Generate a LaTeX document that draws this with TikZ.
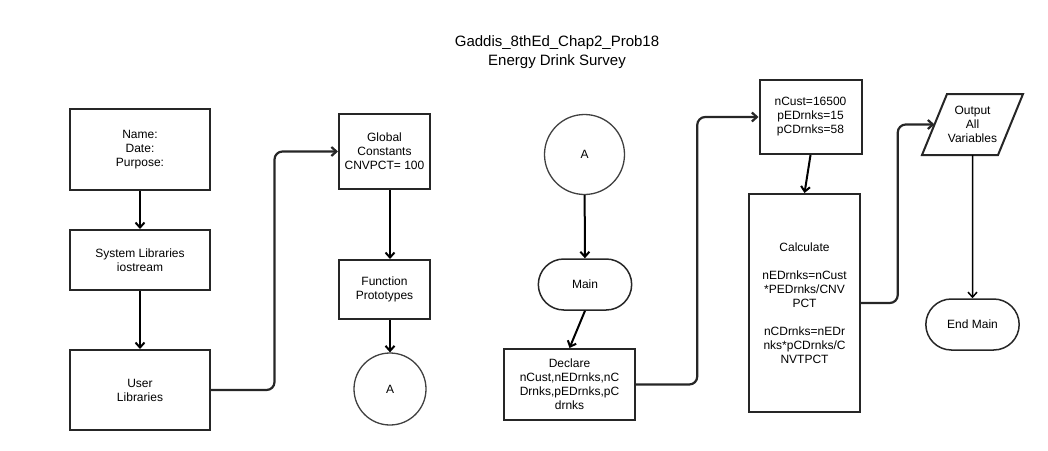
\documentclass[tikz,border=0pt]{standalone}
\usepackage{fontspec}
\setmainfont{Liberation Sans}
\usetikzlibrary{arrows.meta,calc,shapes.misc}

\tikzset{
  box/.style={draw=black!85, line width=2pt, align=center, inner sep=2pt},
  term/.style={draw=black!85, line width=1.5pt, rounded rectangle, align=center,
    minimum width=100pt, minimum height=51pt},
  conn/.style={draw=black!75, line width=1.3pt, circle, inner sep=0pt},
  flow/.style={-{Straight Barb[length=5pt,width=9pt]}, line width=2pt},
  elbow/.style={flow, draw=black!85, line width=2.2pt, rounded corners=8pt},
}

\begin{document}
\begin{tikzpicture}[x=1pt,y=-1pt,font=\fontsize{12}{14}\selectfont]

\path [use as bounding box] (0,0) rectangle (1048,450);

% TITLE
\node [align=center, font=\fontsize{15}{19}\selectfont] (title) at (557,52)
  {Gaddis\_8thEd\_Chap2\_Prob18\\Energy Drink Survey};

% HEADER
\node [box, minimum width=140pt, minimum height=81pt] (head) at (140,149.5) {Name:\\Date:\\Purpose:};
\node [box, minimum width=140pt, minimum height=60pt] (syslib) at (140,260) {System Libraries\\iostream};
\node [box, minimum width=140pt, minimum height=80pt] (usrlib) at (140,390) {User\\Libraries};

\node [box, minimum width=91pt, minimum height=75pt] (global) at (384.5,151.5) {Global\\Constants\\CNVPCT= 100};
\node [box, minimum width=91pt, minimum height=59pt] (proto) at (384.5,289.5) {Function\\Prototypes};
\node [conn, minimum size=72pt] (conA) at (390,389) {A};

% MAIN
\node [conn, minimum size=80pt] (conB) at (584.5,154.5) {A};
\node [term] (main) at (585,284.5) {Main};
\node [box, minimum width=131pt, minimum height=71pt] (decl) at (569.5,384.5)
  {Declare\\nCust,nEDrnks,nC\\Drnks,pEDrnks,pC\\drnks};

\node [box, minimum width=102pt, minimum height=74pt] (init) at (810.5,117)
  {nCust=16500\\pEDrnks=15\\pCDrnks=58};
\node [box, minimum width=111pt, minimum height=218pt] (calc) at (804.5,303)
  {Calculate\\[14pt]nEDrnks=nCust\\*PEDrnks/CNV\\PCT\\[14pt]nCDrnks=nEDr\\nks*pCDrnks/C\\NVTPCT};

% OUTPUT (slanted box drawn round the text)
\node [align=center] (out) at (972.5,124.5) {Output\\All\\Variables};
\draw [draw=black!85, line width=2pt] (out) ++(-50.5,30.5) -- ++(76,0) -- ++(25,-61) -- ++(-76,0) -- cycle;
\coordinate (outin) at ($(out)+(-38,0)$);
\coordinate (outbot) at ($(out)+(0,30.5)$);
\node [term] (endm) at (972.5,324.5) {End Main};

% FLOW
\draw [flow] (head) -- (syslib);
\draw [flow] (syslib) -- (usrlib);
\draw [elbow] (usrlib.east) -| ($(usrlib.east)!0.5!(global.west)$) |- (global.west);
\draw [flow] (global.south -| conA) -- (proto.north -| conA);
\draw [flow] (proto.south -| conA) -- (conA);

\draw [flow] (conB) -- (main);
\draw [flow] (main.south) -- (decl.north);
\draw [elbow] (decl.east) -| ($(decl.east)!0.5!(init.west)$) |- (init.west);
\draw [flow] (init.south) -- (calc.north);
\draw [elbow] (calc.east) -| ($(calc.east)!0.5!(outin)$) |- (outin);
\draw [flow, line width=1.5pt] (outbot) -- (endm);

\end{tikzpicture}
\end{document}
